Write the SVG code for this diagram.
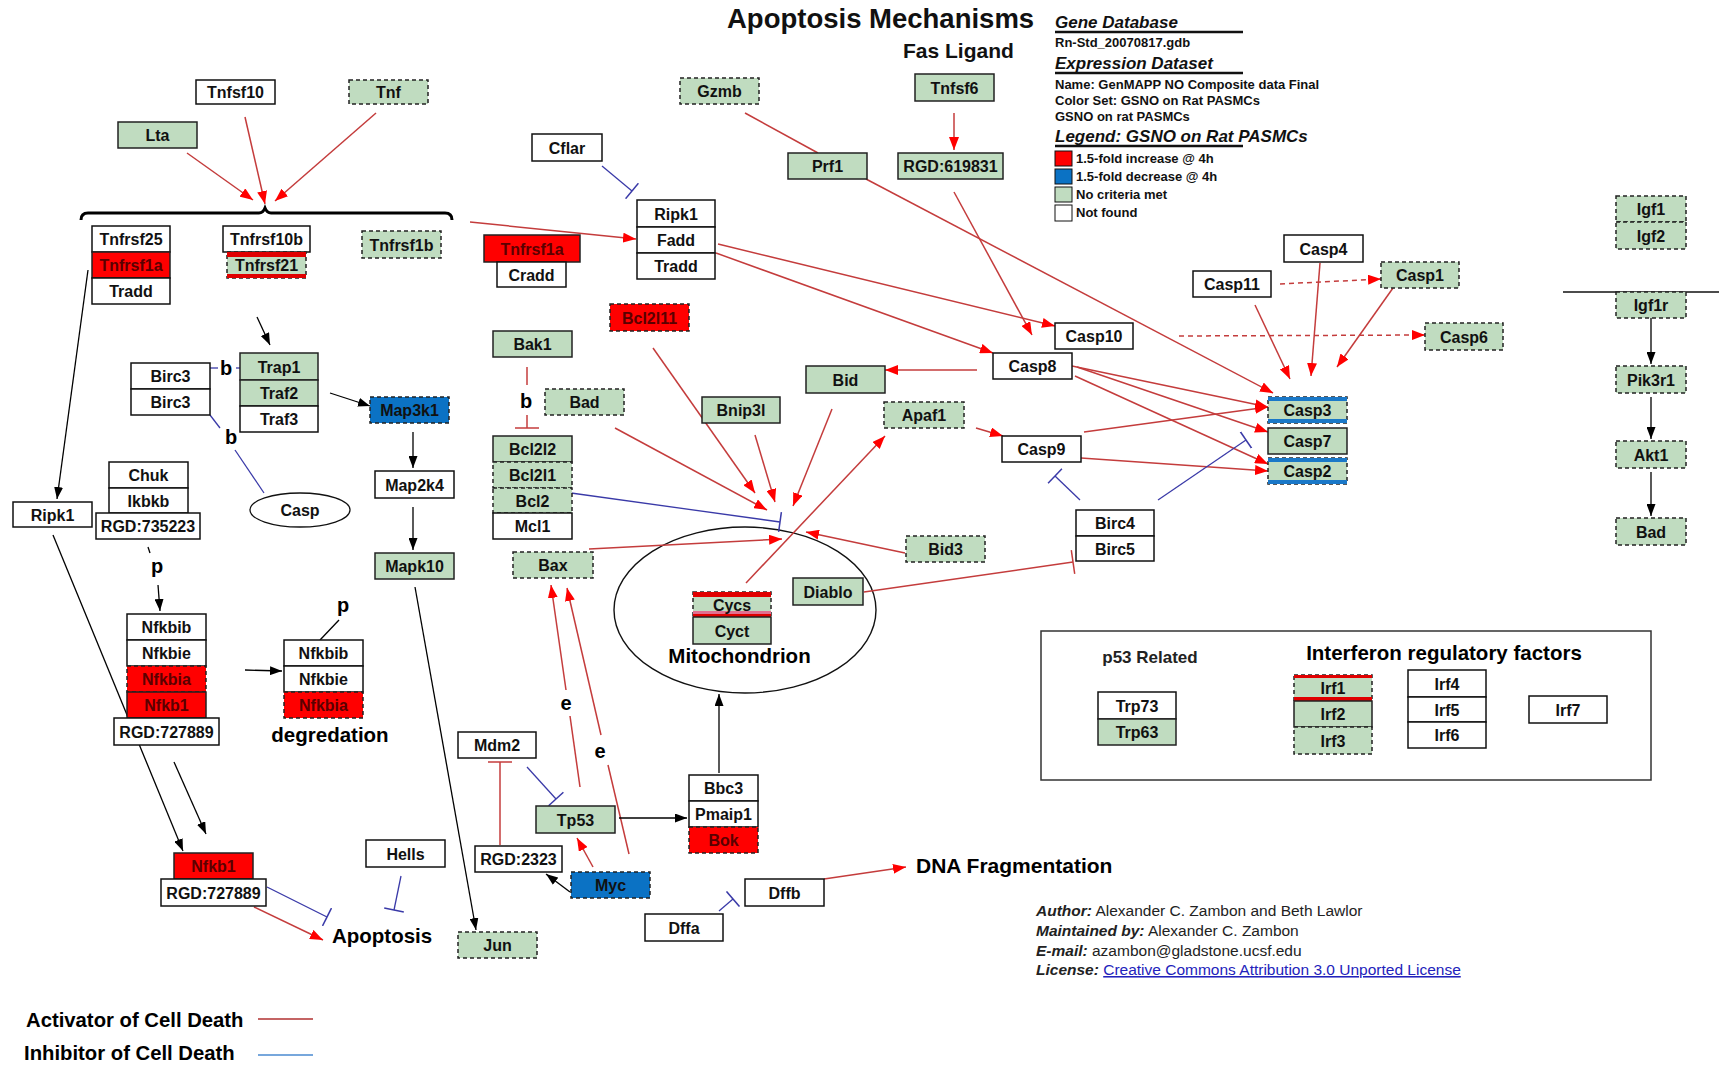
<svg xmlns="http://www.w3.org/2000/svg" width="1719" height="1067" viewBox="0 0 1719 1067">
<defs>
<style>
text{font-family:"Liberation Sans",Arial,sans-serif}
.w{fill:#fff;stroke:#111;stroke-width:1.5}
.g{fill:#c0dcc0;stroke:#222;stroke-width:1.5}
.gd{fill:#c0dcc0;stroke:#222;stroke-width:1.5;stroke-dasharray:4 3}
.r{fill:#f00;stroke:#222;stroke-width:1.5}
.rd{fill:#f00;stroke:#222;stroke-width:1.5;stroke-dasharray:4 3}
.bl{fill:#0b72c4;stroke:#222;stroke-width:1.5;stroke-dasharray:4 3}
.t{font-size:16px;font-weight:bold;text-anchor:middle;fill:#111}
.tr{fill:#5a0000}
.sr{fill:#e00000}
.sb{fill:#1a78c8}
.lbl{font-weight:bold;fill:#000}
.ca{stroke:#c43c3c;stroke-width:1.5;fill:none;marker-end:url(#ar)}
.cad{stroke:#c43c3c;stroke-width:1.5;fill:none;stroke-dasharray:5 4;marker-end:url(#ar)}
.cl{stroke:#c43c3c;stroke-width:1.5;fill:none}
.ck{stroke:#000;stroke-width:1.3;fill:none;marker-end:url(#ak)}
.kl{stroke:#000;stroke-width:1.3;fill:none}
.ci{stroke:#3a3aa8;stroke-width:1.3;fill:none;marker-end:url(#tb)}
.bln{stroke:#3a3aa8;stroke-width:1.3;fill:none}
.cr{stroke:#c43c3c;stroke-width:1.5;fill:none;marker-end:url(#trr)}
.leg{font-size:13px;font-weight:bold;fill:#111}
.hd{font-size:17px;font-weight:bold;font-style:italic;fill:#111}
.au{font-size:15.5px;fill:#222}
</style>
<marker id="ar" viewBox="0 0 13 10" refX="13" refY="5" markerWidth="13" markerHeight="10" markerUnits="userSpaceOnUse" orient="auto"><path d="M0,0 L13,5 L0,10 z" fill="#f00"/></marker>
<marker id="ak" viewBox="0 0 12 9" refX="12" refY="4.5" markerWidth="12" markerHeight="9" markerUnits="userSpaceOnUse" orient="auto"><path d="M0,0 L12,4.5 L0,9 z" fill="#000"/></marker>
<marker id="tb" viewBox="0 0 4 20" refX="2" refY="10" markerWidth="4" markerHeight="20" markerUnits="userSpaceOnUse" orient="auto"><path d="M2,0 V20" stroke="#3a3aa8" stroke-width="1.5"/></marker>
<marker id="trr" viewBox="0 0 4 24" refX="2" refY="12" markerWidth="4" markerHeight="24" markerUnits="userSpaceOnUse" orient="auto"><path d="M2,0 V24" stroke="#c43c3c" stroke-width="1.5"/></marker>
</defs>
<rect x="0" y="0" width="1719" height="1067" fill="#fff"/>

<!-- Titles and legend -->
<g id="titles">
<text x="727" y="28" font-size="27.5" font-weight="bold" fill="#111">Apoptosis Mechanisms</text>
<text x="903" y="58" font-size="21" font-weight="bold" fill="#111">Fas Ligand</text>
</g>
<g id="legend-info">
<text class="hd" x="1055" y="28">Gene Database</text>
<line x1="1055" y1="32" x2="1243" y2="32" stroke="#111" stroke-width="2.5"/>
<text class="leg" x="1055" y="47">Rn-Std_20070817.gdb</text>
<text class="hd" x="1055" y="69">Expression Dataset</text>
<line x1="1055" y1="73" x2="1243" y2="73" stroke="#111" stroke-width="2.5"/>
<text class="leg" x="1055" y="89">Name: GenMAPP NO Composite data Final</text>
<text class="leg" x="1055" y="105">Color Set: GSNO on Rat PASMCs</text>
<text class="leg" x="1055" y="121">GSNO on rat PASMCs</text>
<text class="hd" x="1055" y="142">Legend: GSNO on Rat PASMCs</text>
<line x1="1055" y1="146" x2="1243" y2="146" stroke="#111" stroke-width="2.5"/>
<rect x="1055" y="151" width="17" height="15" fill="#f00" stroke="#111"/>
<rect x="1055" y="169" width="17" height="15" fill="#0b72c4" stroke="#111"/>
<rect x="1055" y="187" width="17" height="15" fill="#c0dcc0" stroke="#111"/>
<rect x="1055" y="205" width="17" height="16" fill="#fff" stroke="#111"/>
<text class="leg" x="1076" y="163">1.5-fold increase @ 4h</text>
<text class="leg" x="1076" y="181">1.5-fold decrease @ 4h</text>
<text class="leg" x="1076" y="199">No criteria met</text>
<text class="leg" x="1076" y="217">Not found</text>
</g>

<!-- Shapes -->
<g id="shapes">
<path d="M81,220 Q81,213 88,213 L259,213 Q263,213 265,208 Q267,213 271,213 L445,213 Q452,213 452,220" fill="none" stroke="#000" stroke-width="3"/>
<line x1="1563" y1="292" x2="1719" y2="292" stroke="#111" stroke-width="1.5"/>
<ellipse cx="745" cy="610" rx="131" ry="83" fill="none" stroke="#111" stroke-width="1.4"/>
<rect x="1041" y="631" width="610" height="149" fill="none" stroke="#333" stroke-width="1.5"/>
</g>

<!-- Connectors -->
<g id="connectors">
<line class="ca" x1="187" y1="153" x2="253" y2="200"/>
<line class="ca" x1="245" y1="117" x2="265" y2="204"/>
<line class="ca" x1="376" y1="113" x2="275" y2="201"/>
<line class="ca" x1="470" y1="222" x2="636" y2="239"/>
<line class="ca" x1="954" y1="113" x2="954" y2="150"/>
<line class="cl" x1="745" y1="113" x2="818" y2="153"/>
<line class="ca" x1="866" y1="179" x2="1273" y2="393"/>
<line class="ca" x1="954" y1="192" x2="1032" y2="335"/>
<line class="ca" x1="718" y1="244" x2="1055" y2="326"/>
<line class="ca" x1="716" y1="253" x2="993" y2="353"/>
<line class="cad" x1="1280" y1="284" x2="1381" y2="279"/>
<line class="cad" x1="1179" y1="336" x2="1425" y2="335"/>
<line class="ca" x1="1255" y1="305" x2="1290" y2="379"/>
<line class="ca" x1="1320" y1="263" x2="1311" y2="376"/>
<line class="ca" x1="1393" y1="288" x2="1337" y2="367"/>
<line class="ca" x1="1072" y1="366" x2="1268" y2="407"/>
<line class="ca" x1="1077" y1="367" x2="1268" y2="432"/>
<line class="ca" x1="1075" y1="376" x2="1268" y2="464"/>
<line class="ca" x1="1084" y1="432" x2="1268" y2="407"/>
<line class="ca" x1="1081" y1="458" x2="1268" y2="471"/>
<line class="ca" x1="977" y1="370" x2="885" y2="370"/>
<line class="ca" x1="976" y1="428" x2="1003" y2="436"/>
<line class="ca" x1="653" y1="348" x2="755" y2="493"/>
<line class="ca" x1="615" y1="428" x2="767" y2="510"/>
<line class="ca" x1="755" y1="435" x2="775" y2="502"/>
<line class="ca" x1="832" y1="409" x2="793" y2="506"/>
<line class="ca" x1="589" y1="549" x2="782" y2="539"/>
<line class="ca" x1="905" y1="553" x2="806" y2="532"/>
<line class="ca" x1="746" y1="583" x2="885" y2="436"/>
<line class="cl" x1="580" y1="787" x2="570" y2="716"/>
<line class="ca" x1="566" y1="690" x2="551" y2="585"/>
<line class="cl" x1="629" y1="854" x2="608" y2="765"/>
<line class="ca" x1="601" y1="735" x2="567" y2="588"/>
<line class="ca" x1="593" y1="867" x2="577" y2="838"/>
<line class="ca" x1="254" y1="907" x2="323" y2="940"/>
<line class="ca" x1="824" y1="879" x2="906" y2="867"/>

<line class="ck" x1="257" y1="317" x2="270" y2="345"/>
<line class="ck" x1="330" y1="393" x2="370" y2="406"/>
<line class="ck" x1="413" y1="432" x2="413" y2="468"/>
<line class="ck" x1="413" y1="507" x2="413" y2="550"/>
<line class="ck" x1="415" y1="587" x2="476" y2="930"/>
<line class="ck" x1="88" y1="270" x2="57" y2="499"/>
<line class="ck" x1="53" y1="535" x2="183" y2="851"/>
<line class="ck" x1="174" y1="762" x2="206" y2="834"/>
<line class="kl" x1="148" y1="547" x2="150" y2="553"/>
<line class="ck" x1="158" y1="585" x2="160" y2="611"/>
<line class="kl" x1="339" y1="620" x2="320" y2="640"/>
<line class="ck" x1="245" y1="670" x2="282" y2="671"/>
<line class="ck" x1="1651" y1="318" x2="1651" y2="364"/>
<line class="ck" x1="1651" y1="397" x2="1651" y2="439"/>
<line class="ck" x1="1651" y1="472" x2="1651" y2="516"/>
<line class="ck" x1="619" y1="818" x2="687" y2="818"/>
<line class="ck" x1="719" y1="773" x2="719" y2="694"/>
<line class="ck" x1="570" y1="892" x2="546" y2="874"/>

<line class="ci" x1="602" y1="166" x2="632" y2="191"/>
<line class="ci" x1="571" y1="493" x2="780" y2="522"/>
<line class="ci" x1="1158" y1="500" x2="1246" y2="440"/>
<line class="ci" x1="1080" y1="500" x2="1055" y2="476"/>
<line class="ci" x1="527" y1="767" x2="556" y2="799"/>
<line class="ci" x1="267" y1="887" x2="327" y2="917"/>
<line class="ci" x1="401" y1="876" x2="394" y2="910"/>
<line class="ci" x1="719" y1="911" x2="733" y2="899"/>
<line class="bln" x1="210" y1="368" x2="218" y2="368"/>
<line class="bln" x1="236" y1="368" x2="240" y2="368"/>
<line class="bln" x1="210" y1="415" x2="220" y2="428"/>
<line class="bln" x1="235" y1="450" x2="264" y2="493"/>

<line class="cl" x1="527" y1="367" x2="527" y2="385"/>
<line class="cr" x1="527" y1="415" x2="527" y2="428"/>
<line class="cr" x1="500" y1="845" x2="500" y2="762"/>
<line class="cr" x1="864" y1="592" x2="1073" y2="562"/>
</g>

<!-- Nodes -->
<g id="n-Tnfsf10"><rect class="w" x="196" y="80" width="79" height="24"/><text class="t" x="235.5" y="98">Tnfsf10</text></g>
<g id="n-Tnf"><rect class="gd" x="349" y="80" width="79" height="24"/><text class="t" x="388.5" y="98">Tnf</text></g>
<g id="n-Lta"><rect class="g" x="118" y="122" width="79" height="26"/><text class="t" x="157.5" y="141">Lta</text></g>
<g id="n-Tnfrsf25"><rect class="w" x="92" y="226" width="78" height="26"/><text class="t" x="131" y="245">Tnfrsf25</text></g>
<g id="n-Tnfrsf1a-1"><rect class="r" x="92" y="252" width="78" height="26"/><text class="t tr" x="131" y="271">Tnfrsf1a</text></g>
<g id="n-Tradd-1"><rect class="w" x="92" y="278" width="78" height="26"/><text class="t" x="131" y="297">Tradd</text></g>
<g id="n-Tnfrsf10b"><rect class="w" x="223" y="226" width="87" height="26"/><text class="t" x="266.5" y="245">Tnfrsf10b</text></g>
<g id="n-Tnfrsf21"><rect class="gd" x="227" y="252" width="79" height="26"/><rect class="sr" x="227" y="252" width="79" height="5"/><rect class="sr" x="227" y="274" width="79" height="4"/><text class="t" x="266.5" y="271">Tnfrsf21</text></g>
<g id="n-Tnfrsf1b"><rect class="gd" x="362" y="231" width="79" height="27"/><text class="t" x="401.5" y="250.5">Tnfrsf1b</text></g>
<g id="n-Tnfrsf1a-2"><rect class="r" x="484" y="235" width="96" height="27"/><text class="t tr" x="532" y="254.5">Tnfrsf1a</text></g>
<g id="n-Cradd"><rect class="w" x="497" y="262" width="69" height="25"/><text class="t" x="531.5" y="280.5">Cradd</text></g>
<g id="n-Cflar"><rect class="w" x="532" y="134" width="70" height="27"/><text class="t" x="567" y="153.5">Cflar</text></g>
<g id="n-Ripk1-1"><rect class="w" x="637" y="200" width="78" height="27"/><text class="t" x="676" y="219.5">Ripk1</text></g>
<g id="n-Fadd"><rect class="w" x="637" y="227" width="78" height="26"/><text class="t" x="676" y="246">Fadd</text></g>
<g id="n-Tradd-2"><rect class="w" x="637" y="253" width="78" height="26"/><text class="t" x="676" y="272">Tradd</text></g>
<g id="n-Gzmb"><rect class="gd" x="680" y="78" width="79" height="26"/><text class="t" x="719.5" y="97">Gzmb</text></g>
<g id="n-Tnfsf6"><rect class="g" x="915" y="74" width="79" height="27"/><text class="t" x="954.5" y="93.5">Tnfsf6</text></g>
<g id="n-Prf1"><rect class="g" x="788" y="153" width="79" height="26"/><text class="t" x="827.5" y="172">Prf1</text></g>
<g id="n-RGD619831"><rect class="g" x="898" y="153" width="105" height="26"/><text class="t" x="950.5" y="172">RGD:619831</text></g>
<g id="n-Bcl2l11"><rect class="rd" x="610" y="304" width="79" height="27"/><text class="t tr" x="649.5" y="323.5">Bcl2l11</text></g>
<g id="n-Casp4"><rect class="w" x="1284" y="235" width="79" height="27"/><text class="t" x="1323.5" y="254.5">Casp4</text></g>
<g id="n-Casp11"><rect class="w" x="1193" y="271" width="78" height="26"/><text class="t" x="1232" y="290">Casp11</text></g>
<g id="n-Casp1"><rect class="gd" x="1381" y="262" width="78" height="26"/><text class="t" x="1420" y="281">Casp1</text></g>
<g id="n-Casp10"><rect class="w" x="1055" y="323" width="78" height="26"/><text class="t" x="1094" y="342">Casp10</text></g>
<g id="n-Casp6"><rect class="gd" x="1425" y="323" width="78" height="27"/><text class="t" x="1464" y="342.5">Casp6</text></g>
<g id="n-Casp8"><rect class="w" x="993" y="353" width="79" height="26"/><text class="t" x="1032.5" y="372">Casp8</text></g>
<g id="n-Casp9"><rect class="w" x="1002" y="436" width="79" height="26"/><text class="t" x="1041.5" y="455">Casp9</text></g>
<g id="n-Casp3"><rect class="gd" x="1268" y="397" width="79" height="26"/><rect class="sb" x="1268" y="397" width="79" height="4"/><rect class="sb" x="1268" y="419" width="79" height="4"/><text class="t" x="1307.5" y="416">Casp3</text></g>
<g id="n-Casp7"><rect class="g" x="1268" y="428" width="79" height="26"/><text class="t" x="1307.5" y="447">Casp7</text></g>
<g id="n-Casp2"><rect class="gd" x="1268" y="458" width="79" height="26"/><rect class="sb" x="1268" y="458" width="79" height="4"/><rect class="sb" x="1268" y="480" width="79" height="4"/><text class="t" x="1307.5" y="477">Casp2</text></g>
<g id="n-Igf1"><rect class="gd" x="1616" y="196" width="70" height="26"/><text class="t" x="1651" y="215">Igf1</text></g>
<g id="n-Igf2"><rect class="gd" x="1616" y="222" width="70" height="27"/><text class="t" x="1651" y="241.5">Igf2</text></g>
<g id="n-Igf1r"><rect class="gd" x="1616" y="292" width="70" height="26"/><text class="t" x="1651" y="311">Igf1r</text></g>
<g id="n-Pik3r1"><rect class="gd" x="1616" y="366" width="70" height="27"/><text class="t" x="1651" y="385.5">Pik3r1</text></g>
<g id="n-Akt1"><rect class="gd" x="1616" y="441" width="70" height="27"/><text class="t" x="1651" y="460.5">Akt1</text></g>
<g id="n-Bad-2"><rect class="gd" x="1616" y="518" width="70" height="27"/><text class="t" x="1651" y="537.5">Bad</text></g>
<g id="n-Trap1"><rect class="g" x="240" y="353" width="78" height="27"/><text class="t" x="279" y="372.5">Trap1</text></g>
<g id="n-Traf2"><rect class="g" x="240" y="380" width="78" height="26"/><text class="t" x="279" y="399">Traf2</text></g>
<g id="n-Traf3"><rect class="w" x="240" y="406" width="78" height="26"/><text class="t" x="279" y="425">Traf3</text></g>
<g id="n-Birc3-1"><rect class="w" x="131" y="363" width="79" height="26"/><text class="t" x="170.5" y="382">Birc3</text></g>
<g id="n-Birc3-2"><rect class="w" x="131" y="389" width="79" height="26"/><text class="t" x="170.5" y="408">Birc3</text></g>
<g id="n-Map3k1"><rect class="bl" x="370" y="397" width="79" height="26"/><text class="t" x="409.5" y="416" fill="#0a1a40">Map3k1</text></g>
<g id="n-Map2k4"><rect class="w" x="375" y="471" width="79" height="27"/><text class="t" x="414.5" y="490.5">Map2k4</text></g>
<g id="n-Mapk10"><rect class="g" x="375" y="553" width="79" height="26"/><text class="t" x="414.5" y="572">Mapk10</text></g>
<g id="n-Ripk1-2"><rect class="w" x="13" y="502" width="79" height="25"/><text class="t" x="52.5" y="520.5">Ripk1</text></g>
<g id="n-Chuk"><rect class="w" x="109" y="462" width="79" height="26"/><text class="t" x="148.5" y="481">Chuk</text></g>
<g id="n-Ikbkb"><rect class="w" x="109" y="488" width="79" height="25"/><text class="t" x="148.5" y="506.5">Ikbkb</text></g>
<g id="n-RGD735223"><rect class="w" x="96" y="513" width="104" height="26"/><text class="t" x="148" y="532">RGD:735223</text></g>
<g id="n-Nfkbib-1"><rect class="w" x="127" y="614" width="79" height="26"/><text class="t" x="166.5" y="633">Nfkbib</text></g>
<g id="n-Nfkbie-1"><rect class="w" x="127" y="640" width="79" height="26"/><text class="t" x="166.5" y="659">Nfkbie</text></g>
<g id="n-Nfkbia-1"><rect class="rd" x="127" y="666" width="79" height="26"/><text class="t tr" x="166.5" y="685">Nfkbia</text></g>
<g id="n-Nfkb1-1"><rect class="r" x="127" y="692" width="79" height="26"/><text class="t tr" x="166.5" y="711">Nfkb1</text></g>
<g id="n-RGD727889-1"><rect class="w" x="114" y="718" width="105" height="27"/><text class="t" x="166.5" y="737.5">RGD:727889</text></g>
<g id="n-Nfkbib-2"><rect class="w" x="284" y="640" width="79" height="26"/><text class="t" x="323.5" y="659">Nfkbib</text></g>
<g id="n-Nfkbie-2"><rect class="w" x="284" y="666" width="79" height="26"/><text class="t" x="323.5" y="685">Nfkbie</text></g>
<g id="n-Nfkbia-2"><rect class="rd" x="284" y="692" width="79" height="26"/><text class="t tr" x="323.5" y="711">Nfkbia</text></g>
<g id="n-Casp"><ellipse cx="300" cy="510" rx="50" ry="17" fill="#fff" stroke="#111" stroke-width="1.3"/><text class="t" x="300" y="516" font-size="18">Casp</text></g>
<g id="n-Bak1"><rect class="g" x="493" y="331" width="79" height="26"/><text class="t" x="532.5" y="350">Bak1</text></g>
<g id="n-Bad-1"><rect class="gd" x="545" y="389" width="79" height="26"/><text class="t" x="584.5" y="408">Bad</text></g>
<g id="n-Bcl2l2"><rect class="g" x="493" y="436" width="79" height="26"/><text class="t" x="532.5" y="455">Bcl2l2</text></g>
<g id="n-Bcl2l1"><rect class="gd" x="493" y="462" width="79" height="26"/><text class="t" x="532.5" y="481">Bcl2l1</text></g>
<g id="n-Bcl2"><rect class="gd" x="493" y="488" width="79" height="25"/><text class="t" x="532.5" y="506.5">Bcl2</text></g>
<g id="n-Mcl1"><rect class="w" x="493" y="513" width="79" height="26"/><text class="t" x="532.5" y="532">Mcl1</text></g>
<g id="n-Bax"><rect class="gd" x="513" y="552" width="80" height="26"/><text class="t" x="553" y="571">Bax</text></g>
<g id="n-Bnip3l"><rect class="g" x="702" y="397" width="78" height="26"/><text class="t" x="741" y="416">Bnip3l</text></g>
<g id="n-Bid"><rect class="g" x="806" y="366" width="79" height="27"/><text class="t" x="845.5" y="385.5">Bid</text></g>
<g id="n-Apaf1"><rect class="gd" x="884" y="402" width="80" height="26"/><text class="t" x="924" y="421">Apaf1</text></g>
<g id="n-Bid3"><rect class="gd" x="906" y="536" width="79" height="26"/><text class="t" x="945.5" y="555">Bid3</text></g>
<g id="n-Diablo"><rect class="g" x="793" y="578" width="70" height="27"/><text class="t" x="828" y="597.5">Diablo</text></g>
<g id="n-Cycs"><rect class="gd" x="693" y="592" width="78" height="25"/><rect class="sr" x="693" y="592" width="78" height="5"/><rect fill="#e07090" x="693" y="611" width="78" height="3"/><rect class="sr" x="693" y="614" width="78" height="3"/><text class="t" x="732" y="610.5">Cycs</text></g>
<g id="n-Cyct"><rect class="g" x="693" y="617" width="78" height="27"/><text class="t" x="732" y="636.5">Cyct</text></g>
<g id="n-Birc4"><rect class="w" x="1076" y="510" width="78" height="26"/><text class="t" x="1115" y="529">Birc4</text></g>
<g id="n-Birc5"><rect class="w" x="1076" y="536" width="78" height="25"/><text class="t" x="1115" y="554.5">Birc5</text></g>
<g id="n-Mdm2"><rect class="w" x="458" y="732" width="78" height="26"/><text class="t" x="497" y="751">Mdm2</text></g>
<g id="n-Tp53"><rect class="g" x="536" y="806" width="79" height="27"/><text class="t" x="575.5" y="825.5">Tp53</text></g>
<g id="n-RGD2323"><rect class="w" x="475" y="846" width="87" height="26"/><text class="t" x="518.5" y="865">RGD:2323</text></g>
<g id="n-Myc"><rect class="bl" x="571" y="872" width="79" height="26"/><text class="t" x="610.5" y="891" fill="#0a1a40">Myc</text></g>
<g id="n-Bbc3"><rect class="w" x="689" y="775" width="69" height="26"/><text class="t" x="723.5" y="794">Bbc3</text></g>
<g id="n-Pmaip1"><rect class="w" x="689" y="801" width="69" height="26"/><text class="t" x="723.5" y="820">Pmaip1</text></g>
<g id="n-Bok"><rect class="rd" x="689" y="827" width="69" height="26"/><text class="t tr" x="723.5" y="846">Bok</text></g>
<g id="n-Dffb"><rect class="w" x="745" y="879" width="79" height="27"/><text class="t" x="784.5" y="898.5">Dffb</text></g>
<g id="n-Dffa"><rect class="w" x="645" y="914" width="78" height="27"/><text class="t" x="684" y="933.5">Dffa</text></g>
<g id="n-Hells"><rect class="w" x="366" y="840" width="79" height="27"/><text class="t" x="405.5" y="859.5">Hells</text></g>
<g id="n-Jun"><rect class="gd" x="458" y="932" width="79" height="26"/><text class="t" x="497.5" y="951">Jun</text></g>
<g id="n-Nfkb1-2"><rect class="r" x="174" y="853" width="79" height="26"/><text class="t tr" x="213.5" y="872">Nfkb1</text></g>
<g id="n-RGD727889-2"><rect class="w" x="161" y="879" width="105" height="27"/><text class="t" x="213.5" y="898.5">RGD:727889</text></g>
<g id="n-Trp73"><rect class="w" x="1098" y="692" width="78" height="27"/><text class="t" x="1137" y="711.5">Trp73</text></g>
<g id="n-Trp63"><rect class="g" x="1098" y="719" width="78" height="26"/><text class="t" x="1137" y="738">Trp63</text></g>
<g id="n-Irf1"><rect class="gd" x="1294" y="675" width="78" height="26"/><rect class="sr" x="1294" y="675" width="78" height="3"/><rect class="sr" x="1294" y="697" width="78" height="4"/><text class="t" x="1333" y="694">Irf1</text></g>
<g id="n-Irf2"><rect class="g" x="1294" y="701" width="78" height="26"/><text class="t" x="1333" y="720">Irf2</text></g>
<g id="n-Irf3"><rect class="gd" x="1294" y="727" width="78" height="27"/><text class="t" x="1333" y="746.5">Irf3</text></g>
<g id="n-Irf4"><rect class="w" x="1408" y="670" width="78" height="27"/><text class="t" x="1447" y="689.5">Irf4</text></g>
<g id="n-Irf5"><rect class="w" x="1408" y="697" width="78" height="25"/><text class="t" x="1447" y="715.5">Irf5</text></g>
<g id="n-Irf6"><rect class="w" x="1408" y="722" width="78" height="26"/><text class="t" x="1447" y="741">Irf6</text></g>
<g id="n-Irf7"><rect class="w" x="1529" y="696" width="78" height="27"/><text class="t" x="1568" y="715.5">Irf7</text></g>

<!-- Labels -->
<g id="labels">
<text class="lbl" x="226" y="375" font-size="20" text-anchor="middle">b</text>
<text class="lbl" x="231" y="444" font-size="20" text-anchor="middle">b</text>
<text class="lbl" x="526" y="408" font-size="20" text-anchor="middle">b</text>
<text class="lbl" x="157" y="573" font-size="20" text-anchor="middle">p</text>
<text class="lbl" x="343" y="612" font-size="20" text-anchor="middle">p</text>
<text class="lbl" x="566" y="710" font-size="20" text-anchor="middle">e</text>
<text class="lbl" x="600" y="758" font-size="20" text-anchor="middle">e</text>
<text class="lbl" x="330" y="742" font-size="20.5" text-anchor="middle">degredation</text>
<text class="lbl" x="739.5" y="663" font-size="20.5" text-anchor="middle">Mitochondrion</text>
<text class="lbl" x="332" y="943" font-size="20.5">Apoptosis</text>
<text class="lbl" x="916" y="873" font-size="21">DNA Fragmentation</text>
<text x="1150" y="663" font-size="17" font-weight="bold" text-anchor="middle" fill="#222">p53 Related</text>
<text class="lbl" x="1444" y="660" font-size="20.5" text-anchor="middle">Interferon regulatory factors</text>
<text class="lbl" x="26" y="1027" font-size="20.3">Activator of Cell Death</text>
<line x1="258" y1="1019" x2="313" y2="1019" stroke="#b03030" stroke-width="1.5"/>
<text class="lbl" x="24" y="1060" font-size="20.3">Inhibitor of Cell Death</text>
<line x1="258" y1="1055" x2="313" y2="1055" stroke="#4a8ad0" stroke-width="1.5"/>
</g>

<g id="author">
<text class="au" x="1036" y="916"><tspan font-weight="bold" font-style="italic">Author:</tspan> Alexander C. Zambon and Beth Lawlor</text>
<text class="au" x="1036" y="936"><tspan font-weight="bold" font-style="italic">Maintained by:</tspan> Alexander C. Zambon</text>
<text class="au" x="1036" y="956"><tspan font-weight="bold" font-style="italic">E-mail:</tspan> azambon@gladstone.ucsf.edu</text>
<text class="au" x="1036" y="975"><tspan font-weight="bold" font-style="italic">License:</tspan> <tspan fill="#2222bb" text-decoration="underline">Creative Commons Attribution 3.0 Unported License</tspan></text>
</g>
</svg>
